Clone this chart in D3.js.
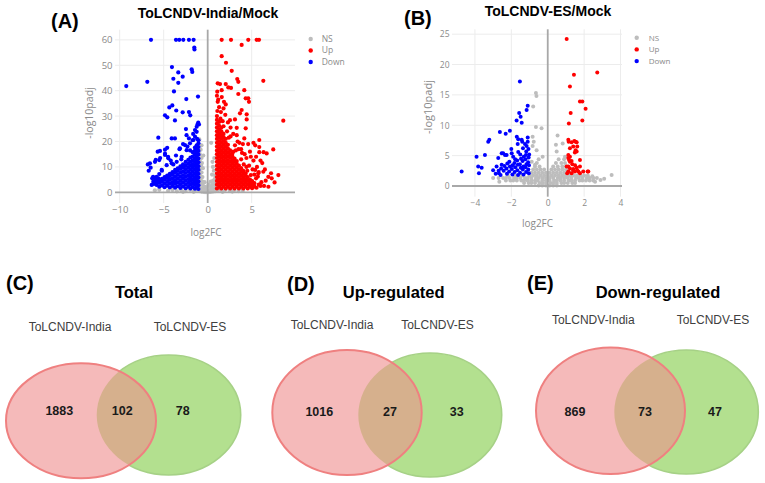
<!DOCTYPE html>
<html><head><meta charset="utf-8">
<script src="https://cdn.jsdelivr.net/npm/d3@7"></script>
<style>body{margin:0;background:#fff}svg{display:block}</style>
</head><body><svg id="c" width="765" height="483"></svg>
<script>
// ---------------- DATA ----------------
const panelLetters = ["(A)","(B)","(C)","(D)","(E)"];
const volcanoTitles = ["ToLCNDV-India/Mock","ToLCNDV-ES/Mock"];
const legendLabels = ["NS","Up","Down"];
const xTicksA = [-10,-5,0,5], yTicksA = [0,10,20,30,40,50,60];
const xTicksB = [-4,-2,0,2,4], yTicksB = [0,5,10,15,20,25];

// Panel A: NS points
const nsA = [[-0.9,0.5],[-0.7,0.3],[-0.5,0.2],[-0.3,0.1],[-0.1,0.1],[0.1,0.1],[0.3,0.2],[0.5,0.3],[0.7,0.4],[0.9,0.5],
[-0.9,1.8],[-0.6,1.5],[-0.4,1.0],[-0.2,0.8],[0.2,0.9],[0.4,1.2],[0.6,1.6],[0.85,1.9],
[-0.85,3.2],[-0.55,2.8],[-0.3,2.2],[0.3,2.4],[0.55,2.9],[0.8,3.3],[-0.1,2.0],[0.1,3.0],
[-0.8,4.8],[-0.6,4.2],[0.6,4.5],[0.8,5.2],[-0.35,4.0],[0.35,4.2],
[-0.85,6.5],[-0.7,7.8],[-0.9,9],[-0.75,10.5],[-0.85,12],[-0.7,13.5],[-0.9,15],[-0.8,16.8],[-0.7,18.5],[-0.95,20.8],[-0.6,6],[-0.55,9.5],[-0.65,11.5],[-0.5,14.5],
[0.5,7],[0.7,8.5],[0.6,10],[0.55,12],[0.75,13.5],[0.85,6.5],[0.4,19.5],
[-4.5,0.6],[-4,0.9],[-3.5,0.4],[-3,0.8],[-2.5,0.5],[-2,1],[-1.5,0.6],[-1.2,1.1],[1.2,0.9],[1.6,0.5],[2,1],[2.5,0.6],[3,0.8],[3.5,0.5],[4,0.7],[-5.5,1.0],[-6,0.8],[-1.6,0.2],[1.7,0.2],[-2.8,0.2],[2.8,0.3]];

// Panel A: Up (red) outliers
const upA = [[1.59,60],[2.65,60],[4.61,60],[5.57,60],[5.83,60],[3.86,58],[1.59,53.6],[2.08,51],[2.73,47.8],[3.36,44.6],[3.48,43.5],[6.32,43.9],
[1.14,42.9],[1.4,42.6],[2.05,42.6],[2.34,41.3],[2.65,41.1],[1.09,39.6],[1.59,40.2],[3.48,38.7],[4.16,40.2],[4.32,37],[4.61,37],[4.69,35.6],
[1.14,35.6],[1.85,35.6],[2.05,34.6],[1.5,31.6],[3.86,32.4],[3.67,31.1],[4.43,30.7],[8.59,28.2],[2.53,28.4],[3.1,28.7],[4.43,28.7],[3.3,25.4],[4.32,25.2],
[5.86,20.6],[4.16,21.2],[4.6,19],[5.4,18.5],[5.86,17.8],[6.35,15.8],[5.86,15.8],[7.45,16.9],[6.7,15.3],[8.03,6.8],[6.59,4.6],[5.6,10],[5.8,8],[5.2,12.5],
[4.9,14],[6.2,11.5],[6.5,9],[7.2,7.5],[5.5,5.5],[4.8,3],[6.0,2.5],[5.2,2.8],[3.1,18.5],[2.6,22],[3.8,17],[4.2,15],[3.4,20],[2.2,24],[1.8,26],[2.9,16],
[1.1,32],[1.3,33.5],[1.2,36.5],[1.6,37.5],[1.05,38],[1.8,33],[1.45,29],[2.0,30.5],[2.3,27.5],[1.7,28],[2.6,25.5],[2.9,23],[3.3,22.5],[3.6,19.5],[2.4,21.5],
[3.5,17],[3.9,15.5],[4.4,13.5],[4.1,11],[4.7,10.5],[5.1,9],[4.5,8.5],[5.3,7],[4.9,6.8],[5.7,6.2],[6.1,4],[5.8,3],[6.4,2.5],[5.0,2.6],[4.4,10],[3.8,13],
[4.8,16],[5.2,19.5],[4.0,19],[3.2,16.5],[5.5,14],[6.0,12.5],[5.4,8.8],[5.75,7.5],[6.32,8.1],[6.89,6.1],[7.27,5.5],[6.9,2.2],[7.6,3.9]];

// Panel A: Up dense core, columns [log2FC, [-log10padj ...]]
const upCoreA = [
 [1.05,[1.5,3,4.5,6,7.5,9,10.5,12,13.5,15,16.5,18,19.5,21,22.5,24,25.5,27,28.5,30]],
 [1.3,[2.2,3.7,5.2,6.7,8.2,9.7,11.2,12.7,14.2,15.7,17.2,18.7,20.2,21.7,23.2,24.7,26.2,27.7]],
 [1.55,[1.5,3,4.5,6,7.5,9,10.5,12,13.5,15,16.5,18,19.5,21,22.5,24,25.5]],
 [1.8,[2.2,3.7,5.2,6.7,8.2,9.7,11.2,12.7,14.2,15.7,17.2,18.7,20.2,21.7,23]],
 [2.05,[1.5,3,4.5,6,7.5,9,10.5,12,13.5,15,16.5,18,19.5,21]],
 [2.3,[2.2,3.7,5.2,6.7,8.2,9.7,11.2,12.7,14.2,15.7,17.2,18.7]],
 [2.55,[1.5,3,4.5,6,7.5,9,10.5,12,13.5,15,16.5]],
 [2.8,[2.2,3.7,5.2,6.7,8.2,9.7,11.2,12.7,14.2,15.2]],
 [3.05,[1.5,3,4.5,6,7.5,9,10.5,12,13.3]],
 [3.3,[2.2,3.7,5.2,6.7,8.2,9.7,11.2,12.3]],
 [3.55,[1.5,3,4.5,6,7.5,9,10.5]],
 [3.8,[2.2,3.7,5.2,6.7,8.2,9.5]],
 [4.05,[1.5,3,4.5,6,7.5,8.5]],
 [4.3,[2.2,3.7,5.2,6.7,7.5]],
 [4.55,[1.5,3,4.5,6]],
 [4.8,[2.2,3.7,5.0]],
 [5.05,[1.6,3.1,4.4]],
 [5.3,[2.3,3.6]],
 [5.55,[1.8]]
];

// Panel A: Down (blue) outliers
const downA = [[-6.44,60],[-3.6,60],[-3.23,60],[-2.77,60],[-2.13,60],[-1.6,60],[-1.52,57],[-1.5,56.2],
[-9.25,41.8],[-6.86,43.5],[-4.06,49.3],[-3.34,47.2],[-3.9,44.7],[-2.84,45.5],[-3.34,43.1],[-1.82,48.4],[-1.75,47.4],[-3.83,39.7],[-2.43,36.7],[-1.1,37.7],
[-4.02,34.2],[-4.36,33.4],[-3.57,32.2],[-4.85,30.3],[-4.59,29.5],[-2.84,31.5],[-2.13,31.6],[-1.98,30.3],[-3.72,28.3],[-1.07,27.4],[-1.15,26.8],[-1.25,25.8],
[-1.44,24.5],[-2.47,24.9],[-5.61,21.5],[-3.72,21.2],[-2.4,22.5],[-2.13,21.2],[-1.65,23],[-4.6,17.5],[-4.85,16.8],[-5.68,16],[-5.42,16.3],[-6.56,11.4],
[-6.48,9.7],[-5.9,12.8],[-5.4,13.5],[-4.85,15.2],[-4.5,14],[-6.2,6.1],[-6.0,5.5],[-5.8,4.8],[-5.2,8.5],[-4.2,12.5],[-3.6,14.5],[-3.2,17],[-2.8,19],
[-2.3,18],[-1.7,20.5],[-2.0,16.5],[-3.0,13],[-3.9,11],[-5.5,7.2],[-6.8,11],[-6.7,8.5],[-6.3,5.5],[-5.23,8.8],[-4.66,10.7],[-4.09,11.4],[-3.52,12.0],
[-2.95,14.0],[-3.15,17.3],[-2.58,18.6],[-2.39,16.6],[-2.01,19.3],[-1.64,20.6],[-1.44,21.9],[-1.25,23.8],[-0.99,26.7],[-5.99,12.0],[-5.5,12.7],
[-4.85,14.7],[-4.47,13.4],[-5.8,6.1],[-5.61,5.5],[-5.42,4.8],[-6.18,4.2],[-6.36,2.9],[-4.09,21.2],[-1.2,21],[-1.05,20.5]];

// Panel A: Down dense core
const downCoreA = [
 [-1.05,[1.3,2.8,4.3,5.8,7.3,8.8,10.3,11.8,13.3,14.8,16.3,17.8,19.3]],
 [-1.25,[2.0,3.5,5.0,6.5,8.0,9.5,11.0,12.5,14.0,15.5,17.0,18.5]],
 [-1.45,[1.4,2.9,4.4,5.9,7.4,8.9,10.4,11.9,13.4,14.9,16.4,17.6]],
 [-1.7,[2.1,3.6,5.1,6.6,8.1,9.6,11.1,12.6,14.1,15.8]],
 [-1.95,[1.5,3.0,4.5,6.0,7.5,9.0,10.5,12.0,13.7]],
 [-2.2,[2.2,3.7,5.2,6.7,8.2,9.7,11.2,12.8]],
 [-2.5,[1.6,3.1,4.6,6.1,7.6,9.1,10.6,12.0]],
 [-2.8,[2.3,3.8,5.3,6.8,8.3,9.8,11.0]],
 [-3.1,[1.7,3.2,4.7,6.2,7.7,9.2,10.2]],
 [-3.4,[2.4,3.9,5.4,6.9,8.4,9.4]],
 [-3.7,[1.8,3.3,4.8,6.3,7.8,8.8]],
 [-4.0,[2.5,4.0,5.5,7.0,8.0]],
 [-4.3,[1.9,3.4,4.9,6.4,7.3]],
 [-4.6,[2.6,4.1,5.6,6.6]],
 [-4.9,[2.0,3.5,5.0,6.0]],
 [-5.2,[2.7,4.2,5.3]],
 [-5.5,[2.2,3.7,4.6]],
 [-5.8,[2.9,4.0]],
 [-6.1,[3.3]]
];

// Panel B: NS band rows [-log10padj, [log2FC ...]] and outliers
const nsRowsB = [
 [0.1,[-0.5,-0.3,-0.1,0.1,0.3,0.5]],
 [0.5,[-1.3,-1.05,-0.9,-0.7,-0.45,-0.3,-0.1,0.15,0.3,0.5,0.75,0.9,1.1,1.35,1.5]],
 [0.9,[-2.3,-2.05,-1.9,-1.7,-1.45,-1.3,-1.1,-0.9,-0.7,-0.55,-0.3,-0.1,0.1,0.35,0.5,0.7,0.9,1.15,1.3,1.5,1.75,1.9,2.1,2.3,2.5]],
 [1.3,[-2.7,-2.45,-2.3,-2.1,-1.85,-1.7,-1.5,-1.25,-1.1,-0.9,-0.65,-0.5,-0.3,-0.1,0.1,0.3,0.55,0.7,0.9,1.1,1.3,1.55,1.7,1.9,2.15,2.3,2.5,2.7]],
 [1.75,[-2.2,-1.8,-1.4,-1.0,-0.8,-0.6,-0.4,-0.2,0,0.2,0.4,0.6,0.8,1.0,1.2,1.4,1.6,1.8,2.0,2.2]],
 [2.2,[-0.9,-0.7,-0.5,-0.3,-0.1,0.1,0.3,0.5,0.7,0.9,1.1,1.3]],
 [2.7,[-0.8,-0.6,-0.4,-0.2,0.2,0.4,0.6,0.8,1.0]],
 [3.2,[-0.7,-0.45,0.3,0.55,0.8,1.0]],
 [3.8,[-0.6,0.45,0.75,0.95]],
 [4.4,[-0.5,0.6,0.9]]
];
const nsB = [[-0.65,15.3],[-0.62,14.8],[-0.8,13.1],[-0.65,9.7],[-0.34,9.5],[-0.83,8.1],[-0.77,7.3],[-0.83,6.6],[-0.61,5.9],[-0.28,4.8],
[0.54,8.3],[0.82,7.0],[0.45,6.8],[0.49,5.7],[0.95,4.8],[3.51,1.8],[-3.0,1.3],[-2.66,0.7],[2.9,1.0],[3.1,1.2],[-0.88,4.0],[-0.7,3.5],[2.45,1.6],[2.6,0.7]];

// Panel B: Up and Down
const upB = [[1.04,24.2],[2.72,18.7],[1.44,18.3],[1.22,16.4],[1.77,13.9],[1.9,13.9],[2.08,12.7],[1.26,12],[1.9,10.8],[1.16,10.3],
[1.13,7.6],[1.31,7.2],[1.46,7.4],[1.59,7.2],[1.4,6.5],[1.22,6.2],[1.53,5.9],[1.49,5.5],[1.13,5.1],[1.13,4.6],[1.22,4.0],[1.31,4.1],[1.77,4.3],
[1.13,3.2],[1.22,2.9],[1.4,2.8],[1.59,3.0],[1.77,3.2],[1.95,2.4],[2.19,2.4],[1.49,2.4],[1.31,2.1],[1.13,2.4],[1.77,2.1],[1.62,2.6],
[1.59,5.7],[1.62,6.5],[1.53,7.3],[1.15,7.3],[1.22,4.8],[1.17,4.3],[1.4,2.6],[1.68,2.4],[2.23,2.4],[1.04,3.2],[1.07,2.1],[1.35,3.6],[1.5,3.4]];
const downB = [[-1.53,17.2],[-1.1,13.2],[-1.16,12.5],[-1.57,12],[-1.49,11.4],[-1.71,10.8],[-1.43,10.4],[-2.63,8.9],[-2.31,8.6],[-2.08,9.1],
[-3.27,7.3],[-3.21,7.6],[-1.62,7.7],[-1.43,7.6],[-1.1,8],[-1.1,7.3],[-1.65,6.9],[-1.7,8.1],[-1.16,6.6],[-3.91,4.8],[-3.45,5.1],[-2.72,4.6],
[-2.45,5.4],[-2.26,5.1],[-1.98,5.4],[-1.9,4.8],[-3.82,3.2],[-3.63,3.0],[-4.73,2.4],[-3.78,2.1],[-2.81,3.2],[-2.53,5.4],[-2.35,5.1],[-2.68,2.1],[-2.59,1.8],
[-1.04,2.1],[-1.07,2.7],[-1.03,3.4],[-1.08,3.9],[-1.05,4.7],[-1.02,5.2],[-1.06,6.1],
[-1.19,2.3],[-1.22,3.1],[-1.17,3.6],[-1.23,4.4],[-1.2,5.1],[-1.18,5.7],
[-1.33,1.9],[-1.37,2.7],[-1.34,3.2],[-1.38,4.1],[-1.32,4.8],[-1.36,6.2],
[-1.52,2.2],[-1.48,3.0],[-1.53,3.6],[-1.47,4.5],[-1.51,5.2],
[-1.63,1.8],[-1.67,2.6],[-1.64,3.5],[-1.68,4.2],[-1.62,5.6],
[-1.82,2.3],[-1.78,3.1],[-1.83,3.8],[-1.79,4.4],
[-1.94,1.9],[-1.97,2.8],[-1.93,3.4],
[-2.12,2.4],[-2.08,3.2],[-2.11,4.0],
[-2.24,2.0],[-2.27,2.9],[-2.22,3.7],
[-2.42,2.5],[-2.38,3.3],[-2.56,2.9],[-2.7,2.5],[-2.86,2.0],[-3.0,2.6],[-2.0,6.1],[-1.25,6.9],[-1.4,7.3],[-2.53,3.5]];

// Venn diagrams
const vennTitles = ["Total","Up-regulated","Down-regulated"];
const setNames = ["ToLCNDV-India","ToLCNDV-ES"];
const indiaOnly = [1883,1016,869];
const sharedCounts = [102,27,73];
const esOnly = [78,33,47];

// ---------------- DRAW ----------------
const svg = d3.select("#c");
svg.append("rect").attr("width",765).attr("height",483).attr("fill","#fff");
const FONT = "Liberation Sans, Arial, sans-serif";
const PFONT = "Open Sans, sans-serif";
const COL = {NS:"#bdbdbd", Up:"#ff0000", Down:"#0000ff"};

const flatCols = cols => cols.flatMap(([x, ys]) => ys.map(y => [x, y]));
const flatRows = rows => rows.flatMap(([y, xs]) => xs.map(x => [x, y]));

function volcano(o) {
  const g = svg.append("g");
  const x = d3.scaleLinear().domain(o.xDomain).range([o.left, o.right]);
  const y = d3.scaleLinear().domain(o.yDomain).range([o.bottom, o.top]);
  g.selectAll(null).data(o.yTicks.filter(d => d !== 0)).join("line")
    .attr("x1", o.left).attr("x2", o.right).attr("y1", d => y(d)).attr("y2", d => y(d))
    .attr("stroke", "#ececec").attr("stroke-width", 1);
  g.selectAll(null).data(o.xTicks.filter(d => d !== 0)).join("line")
    .attr("y1", o.top).attr("y2", o.bottom).attr("x1", d => x(d)).attr("x2", d => x(d))
    .attr("stroke", "#ececec").attr("stroke-width", 1);
  [["NS", o.ns], ["Up", o.up], ["Down", o.down]].forEach(([k, pts]) => {
    g.selectAll(null).data(pts).join("circle")
      .attr("cx", d => x(d[0])).attr("cy", d => y(d[1])).attr("r", o.r).attr("fill", COL[k]);
  });
  g.append("line").attr("x1", o.left).attr("x2", o.right).attr("y1", y(0)).attr("y2", y(0))
    .attr("stroke", "#a8a8a8").attr("stroke-width", 1.8);
  g.append("line").attr("x1", x(0)).attr("x2", x(0)).attr("y1", o.top).attr("y2", o.bottom)
    .attr("stroke", "#a8a8a8").attr("stroke-width", 1.8);
  const ax = g.append("g").attr("transform", `translate(0,${o.xLabBase - 0.71 * o.tickFs})`)
    .call(d3.axisBottom(x).tickValues(o.xTicks).tickSize(0).tickPadding(0));
  const ay = g.append("g").attr("transform", `translate(${o.yLabRight},0)`)
    .call(d3.axisLeft(y).tickValues(o.yTicks).tickSize(0).tickPadding(0));
  [ax, ay].forEach(a => {
    a.select(".domain").remove();
    a.selectAll("text").attr("fill", "#8a8a8a").style("font-family", PFONT).style("font-size", o.tickFs + "px");
  });
  g.append("text").attr("x", o.xTitle[0]).attr("y", o.xTitle[1]).attr("text-anchor", "middle")
    .attr("fill", "#8a8a8a").style("font-family", PFONT).style("font-size", "10px").text("log2FC");
  g.append("text").attr("transform", `translate(${o.yTitle[0]},${o.yTitle[1]}) rotate(-90)`)
    .attr("text-anchor", "middle").attr("fill", "#8a8a8a").style("font-family", PFONT)
    .style("font-size", o.yTitleFs + "px").text("-log10padj");
  g.append("text").attr("x", o.title[0]).attr("y", o.title[1]).attr("text-anchor", "middle")
    .style("font-family", FONT).style("font-weight", "bold").style("font-size", "14px").text(o.titleText);
  g.append("text").attr("x", o.letter[0]).attr("y", o.letter[1])
    .style("font-family", FONT).style("font-weight", "bold").style("font-size", "20px").text(o.letterText);
  const lg = g.selectAll(null).data(legendLabels).join("g")
    .attr("transform", (d, i) => `translate(${o.legend[0]},${o.legend[1] + i * o.legend[2]})`);
  lg.append("circle").attr("r", 2.2).attr("fill", d => COL[d]);
  lg.append("text").attr("x", o.legend[3]).attr("dy", "0.35em").attr("fill", "#8a8a8a")
    .style("font-family", PFONT).style("font-size", o.legFs + "px").text(d => d);
}

volcano({
  xDomain: [-10.53, 9.92], yDomain: [-4.2, 64], left: 115, right: 295, top: 29.7, bottom: 203,
  xTicks: xTicksA, yTicks: yTicksA, tickFs: 9.5, xLabBase: 212.8, yLabRight: 112.5,
  xTitle: [206, 236], yTitle: [93, 113], yTitleFs: 10.5,
  ns: nsA, up: upA.concat(flatCols(upCoreA)), down: downA.concat(flatCols(downCoreA)), r: 2.1,
  title: [208, 18], titleText: volcanoTitles[0], letter: [51, 27.5], letterText: panelLetters[0],
  legend: [310.7, 39, 11.5, 11], legFs: 8.5
});
volcano({
  xDomain: [-5.26, 4.08], yDomain: [-1.76, 25.8], left: 452, right: 622, top: 29.3, bottom: 196.7,
  xTicks: xTicksB, yTicks: yTicksB, tickFs: 8.5, xLabBase: 205.5, yLabRight: 449.5,
  xTitle: [537.5, 227], yTitle: [431.5, 107], yTitleFs: 11,
  ns: flatRows(nsRowsB).concat(nsB), up: upB, down: downB, r: 2.0,
  title: [548, 16], titleText: volcanoTitles[1], letter: [404, 25], letterText: panelLetters[1],
  legend: [636.7, 37.7, 11.7, 12], legFs: 8
});

// Venn layout (positions only)
const vennLayout = [
  {L:[81,420.8,75,57.5], R:[168.7,415,72,60], letter:[6,290], title:[134,298], lab:[[70,331],[190,331]], num:[59.3,122.3,182.7], numY:415},
  {L:[347,412.5,74.7,62.5], R:[430,415,71.7,62], letter:[287,291], title:[393.7,298], lab:[[332,328.5],[437.5,328.5]], num:[319.3,390,456.7], numY:415.5},
  {L:[610.5,410.7,74.5,63.3], R:[686.3,412,72,62], letter:[527,290], title:[658,298], lab:[[593.3,323.5],[713,323.5]], num:[575,645,715], numY:415.5}
];
const defs = svg.append("defs");
vennLayout.forEach((v, i) => {
  const g = svg.append("g");
  const cp = defs.append("clipPath").attr("id", "clipL" + i);
  cp.append("ellipse").attr("cx", v.L[0]).attr("cy", v.L[1]).attr("rx", v.L[2]).attr("ry", v.L[3]);
  g.append("ellipse").attr("cx", v.R[0]).attr("cy", v.R[1]).attr("rx", v.R[2]).attr("ry", v.R[3])
    .attr("fill", "#b3e08f").attr("stroke", "#a6d186").attr("stroke-width", 1.6);
  g.append("ellipse").attr("cx", v.L[0]).attr("cy", v.L[1]).attr("rx", v.L[2]).attr("ry", v.L[3])
    .attr("fill", "#f5baba");
  g.append("ellipse").attr("cx", v.R[0]).attr("cy", v.R[1]).attr("rx", v.R[2]).attr("ry", v.R[3])
    .attr("clip-path", `url(#clipL${i})`).attr("fill", "#d6b08d");
  g.append("ellipse").attr("cx", v.L[0]).attr("cy", v.L[1]).attr("rx", v.L[2]).attr("ry", v.L[3])
    .attr("fill", "none").attr("stroke", "#ef8080").attr("stroke-width", 2);
  g.append("text").attr("x", v.letter[0]).attr("y", v.letter[1])
    .style("font-family", FONT).style("font-weight", "bold").style("font-size", "20px").text(panelLetters[i + 2]);
  g.append("text").attr("x", v.title[0]).attr("y", v.title[1]).attr("text-anchor", "middle")
    .style("font-family", FONT).style("font-weight", "bold").style("font-size", "16.5px").text(vennTitles[i]);
  g.selectAll(null).data(setNames).join("text")
    .attr("x", (d, j) => v.lab[j][0]).attr("y", (d, j) => v.lab[j][1]).attr("text-anchor", "middle")
    .attr("fill", "#404040").style("font-family", FONT).style("font-size", "12px").text(d => d);
  g.selectAll(null).data([indiaOnly[i], sharedCounts[i], esOnly[i]]).join("text")
    .attr("x", (d, j) => v.num[j]).attr("y", v.numY).attr("text-anchor", "middle")
    .attr("fill", "#1a1a1a").style("font-family", FONT).style("font-weight", "bold").style("font-size", "12.5px").text(d => d);
});
</script></body></html>
